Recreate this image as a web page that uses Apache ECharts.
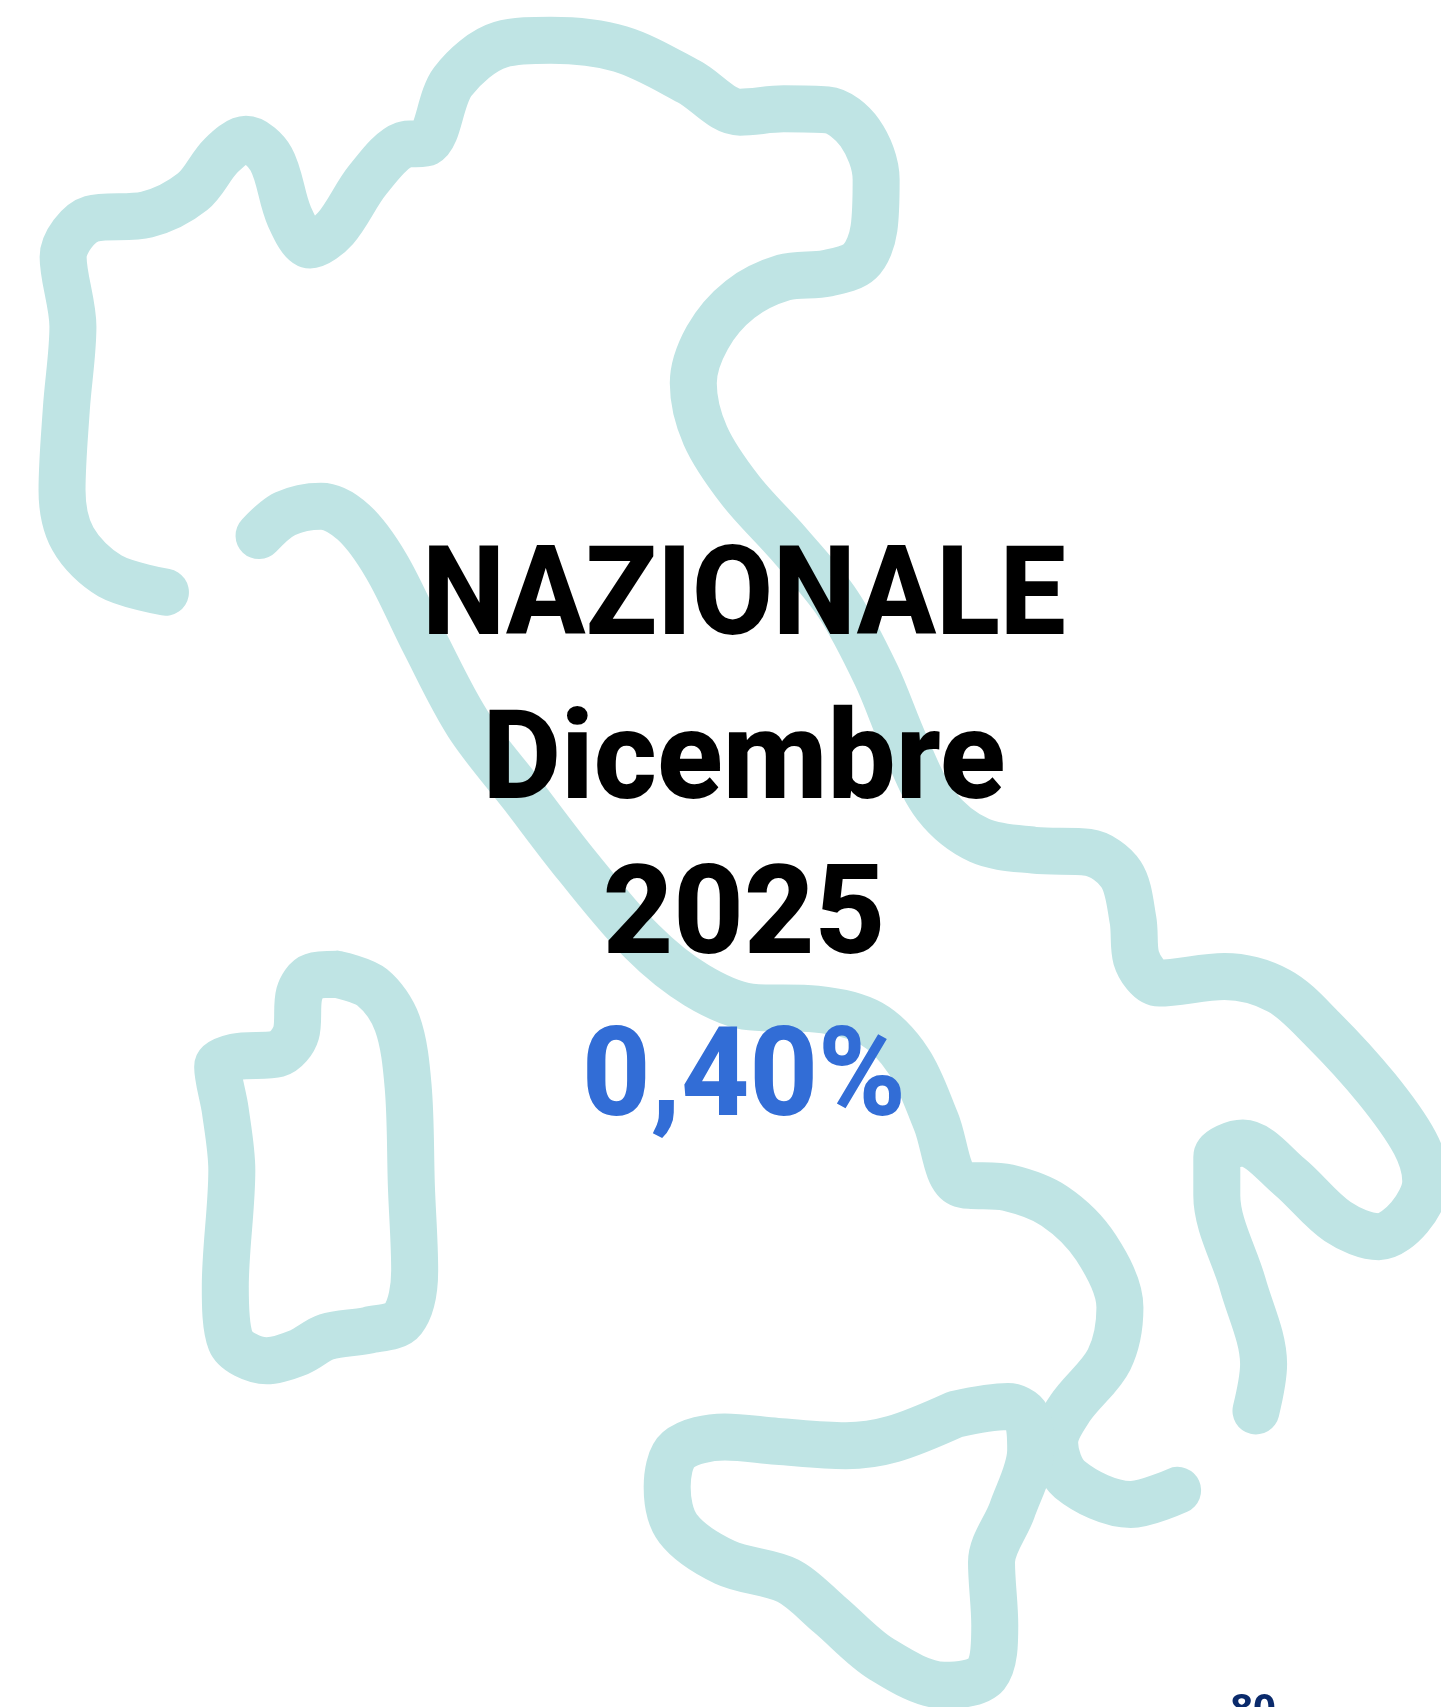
<!DOCTYPE html>
<html>
<head>
<meta charset="utf-8">
<title>Nazionale</title>
<script src="https://cdn.jsdelivr.net/npm/echarts@6/dist/echarts.min.js"></script>
<style>
html, body { margin: 0; padding: 0; background: #fff; }
#main { width: 1441px; height: 1707px; }
</style>
</head>
<body>
<div id="main"></div>
<script>
// outline of the peninsula (x, y on a 1324 x 1568 plane)
var eastCoast = [[152,544],[101,529],[67,495],[57,450],[61,375],[67,300],[58,236],[84,201],[135,197],[177,176],[203,143],[226,128],[249,146],[266,199],[285,225],[308,210],[338,165],[371,133],[392,131],[416,75],[460,41],[506,37],[570,45],[633,75],[680,103],[720,100],[760,101],[790,122],[805,165],[803,210],[790,240],[760,251],[720,255],[680,275],[650,310],[637,352],[648,400],[680,450],[725,500],[770,555],[805,620],[832,685],[860,740],[900,772],[950,781],[1000,783],[1030,803],[1041,845],[1044,880],[1065,903],[1125,897],[1175,910],[1215,945],[1265,1000],[1300,1050],[1310,1085],[1295,1118],[1267,1136],[1229,1122],[1185,1081],[1142,1050],[1118,1063],[1118,1098],[1142,1180],[1161,1253],[1154,1296]];
var westCoast = [[238,492],[262,472],[295,465],[325,480],[355,520],[390,590],[430,665],[480,730],[530,795],[590,865],[640,905],[690,925],[750,927],[800,940],[835,975],[860,1030],[882,1087],[926,1091],[969,1108],[1007,1146],[1029,1201],[1019,1249],[983,1294],[969,1325],[983,1359],[1039,1382],[1082,1369]];
var sicily = [[878,1299],[926,1292],[943,1301],[947,1332],[930,1387],[911,1435],[914,1493],[906,1538],[868,1548],[810,1524],[762,1483],[724,1452],[666,1435],[623,1404],[613,1366],[623,1332],[666,1320],[714,1324],[777,1328],[820,1322],[878,1299]];
var sardinia = [[310,895],[342,907],[365,940],[375,998],[378,1090],[381,1167],[370,1212],[338,1222],[300,1228],[275,1242],[245,1250],[212,1232],[207,1182],[213,1075],[207,1020],[200,980],[216,971],[255,968],[272,949],[275,913],[287,897],[310,895]];

var titleLines = ['NAZIONALE', 'Dicembre', '2025'];
var percentLabel = '0,40%';
var cornerLabel = '80';

var shapes = [eastCoast, westCoast, sicily, sardinia];
var shapeColor = '#bfe4e4';

function headline(text, y, color, stretch) {
	return {
		type: 'text',
		z: 10,
		x: 744,
		y: y,
		scaleX: stretch,
		silent: true,
		style: {
			text: text,
			fill: color,
			font: '800 125px Roboto, sans-serif',
			align: 'center',
			verticalAlign: 'middle'
		}
	};
}

var myChart = echarts.init(document.getElementById('main'), null, { renderer: 'canvas' });
myChart.setOption({
	animation: false,
	backgroundColor: '#fff',
	grid: { left: 0, right: 0, top: 0, bottom: 0 },
	tooltip: { show: false },
	xAxis: { type: 'value', min: 0, max: 1324, show: false },
	yAxis: { type: 'value', min: 0, max: 1568, inverse: true, show: false },
	series: shapes.map(function (shape) {
		return {
			type: 'line',
			data: shape,
			smooth: 0.33,
			symbol: 'none',
			silent: true,
			lineStyle: { color: shapeColor, width: 47, cap: 'round', join: 'round' }
		};
	}),
	graphic: [
		headline(titleLines[0], 603, '#000', 0.94),
		headline(titleLines[1], 767, '#000', 0.97),
		headline(titleLines[2], 922, '#000', 0.98),
		headline(percentLabel, 1084, '#326dd6', 0.95),
		{
			type: 'text',
			z: 10,
			x: 1253,
			y: 1711,
			silent: true,
			style: {
				text: cornerLabel,
				fill: '#0a2a6b',
				font: '700 40px "Open Sans", sans-serif',
				align: 'center',
				verticalAlign: 'middle'
			}
		}
	]
});
</script>
</body>
</html>
